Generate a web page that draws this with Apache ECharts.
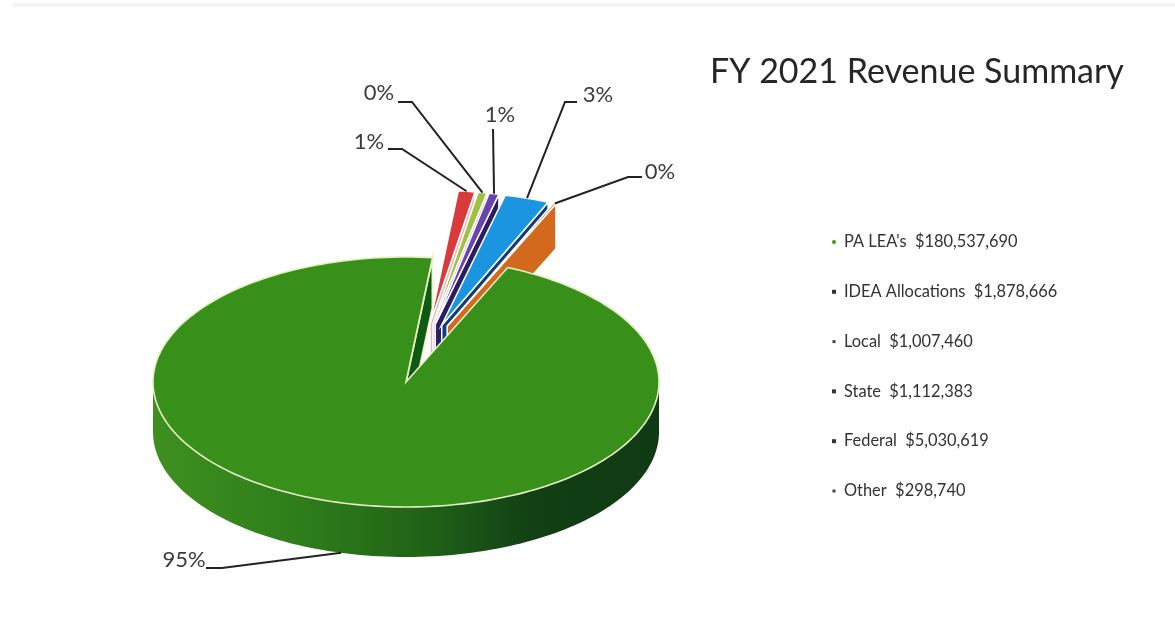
<!DOCTYPE html>
<html>
<head>
<meta charset="utf-8">
<title>FY 2021 Revenue Summary</title>
<style>
  html, body { margin: 0; padding: 0; background: #fff; }
  #chart { width: 1175px; height: 629px; }
</style>
<script src="https://cdn.jsdelivr.net/npm/echarts@6/dist/echarts.min.js"></script>
</head>
<body>
<div id="chart"></div>
<script>
// Revenue sources, in the order the slices run clockwise.
const sourceNames = ["PA LEA's", "IDEA Allocations", "Local", "State", "Federal", "Other"];
const sourceDollars = [180537690, 1878666, 1007460, 1112383, 5030619, 298740];
const percentLabels = ["95%", "1%", "0%", "1%", "3%", "0%"];

// Slice styling: top face, cut wall.
const topColors = ["#38901b", "#d93a3c", "#9cc23f", "#6a44ad", "#1c95e0", "#d2691c"];
const wallColors = ["#0f5a12", "#efb4b4", "#cbbbe2", "#2a1c66", "#123c7c", "#d2691c"];
const legendMarkerColors = ["#3f9a25", "#333333", "#444444", "#333333", "#333333", "#444444"];
const legendMarkerSizes = [4, 4, 3, 4, 4, 3];

// Pie geometry in pixels; angles are degrees clockwise from twelve o'clock.
const pie = { cx: 406, cy: 382, rx: 253, ry: 125, depth: 50, startAngle: 23.7 };
const lift = { shiftX: 15, shiftY: -26, explode: 0.26, radiusScale: 1.07, depth: 45 };

// Label anchor and leader elbow for each slice.
const labelSpots = [
  { x: 184, y: 560, ex: 222, ey: 568, sx: 206, sy: 568 },
  { x: 369, y: 142, ex: 402, ey: 149, sx: 388, sy: 149 },
  { x: 379, y: 93,  ex: 412, ey: 102, sx: 398, sy: 102 },
  { x: 500, y: 115, ex: 493, ey: 129, sx: 493, sy: 129 },
  { x: 598, y: 95,  ex: 565, ey: 102, sx: 577, sy: 102 },
  { x: 660, y: 172, ex: 628, ey: 177, sx: 642, sy: 177 }
];

const legendLayout = { markerX: 834, textX: 844, firstY: 242, step: 49.8 };

const total = sourceDollars.reduce((a, b) => a + b, 0);
const rad = d => d * Math.PI / 180;
const onRim = (c, rx, ry, a) => [c[0] + rx * Math.sin(rad(a)), c[1] - ry * Math.cos(rad(a))];
const arcPoints = (c, rx, ry, a0, a1) => {
  const n = Math.max(2, Math.ceil(Math.abs(a1 - a0) / 1.5));
  const pts = [];
  for (let i = 0; i <= n; i++) pts.push(onRim(c, rx, ry, a0 + (a1 - a0) * i / n));
  return pts;
};
const down = (p, d) => [p[0], p[1] + d];

// Angular extent of every slice, derived from the dollar values.
function sliceRange(index) {
  let a = pie.startAngle;
  for (let i = 0; i < index; i++) a += sourceDollars[i] / total * 360;
  return [a, a + sourceDollars[index] / total * 360];
}

function renderSlice(params, api) {
  const i = params.dataIndex;
  const sweep = api.value(0) / total * 360;
  const a0 = sliceRange(i)[0];
  const a1 = a0 + sweep;
  const mid = (a0 + a1) / 2;
  const children = [];
  let anchor;

  if (i === 0) {
    const c = [pie.cx, pie.cy];
    const front = arcPoints(c, pie.rx, pie.ry, 90, 270);
    const frontLow = front.map(p => down(p, pie.depth)).reverse();
    // Outer rim wall along the front of the disc, lit from the left.
    children.push({
      type: 'polygon', z2: 1,
      shape: { points: front.concat(frontLow) },
      style: {
        fill: new echarts.graphic.LinearGradient(0, 0, 1, 0, [
          { offset: 0, color: '#3f8f20' },
          { offset: 0.3, color: '#2f7c1b' },
          { offset: 0.55, color: '#1f6117' },
          { offset: 0.75, color: '#123f14' },
          { offset: 1, color: '#103a14' }
        ])
      }
    });
    // Cut wall visible inside the gap.
    const end = onRim(c, pie.rx, pie.ry, a1);
    children.push({
      type: 'polygon', z2: 2,
      shape: { points: [c, end, down(end, pie.depth), down(c, pie.depth)] },
      style: { fill: wallColors[0], stroke: '#eef6cf', lineWidth: 2, lineJoin: 'miter' }
    });
    const rim = arcPoints(c, pie.rx, pie.ry, a0, a1);
    children.push({
      type: 'polygon', z2: 20,
      shape: { points: [c].concat(rim) },
      style: { fill: topColors[0], stroke: '#e6efc4', lineWidth: 1.6, lineJoin: 'miter' }
    });
    anchor = down(onRim(c, pie.rx, pie.ry, mid), pie.depth);
  } else {
    const apex = [
      pie.cx + lift.shiftX + lift.explode * pie.rx * Math.sin(rad(mid)),
      pie.cy + lift.shiftY - lift.explode * pie.ry * Math.cos(rad(mid))
    ];
    const rx = pie.rx * lift.radiusScale;
    const ry = pie.ry * lift.radiusScale;
    const end = onRim(apex, rx, ry, a1);
    children.push({
      type: 'polygon', z2: 3 + i * 2,
      shape: { points: [apex, end, down(end, lift.depth), down(apex, lift.depth)] },
      style: { fill: wallColors[i], stroke: '#ffffff', lineWidth: 1.5 }
    });
    children.push({
      type: 'polygon', z2: 4 + i * 2,
      shape: { points: [apex].concat(arcPoints(apex, rx, ry, a0, a1)) },
      style: { fill: topColors[i], stroke: '#ffffff', lineWidth: 1.5 }
    });
    anchor = onRim(apex, rx, ry, mid);
  }

  // Leader line and percentage label.
  const spot = labelSpots[i];
  children.push({
    type: 'polyline', z2: 30,
    shape: { points: [[spot.sx, spot.sy], [spot.ex, spot.ey], anchor] },
    style: { fill: null, stroke: '#222222', lineWidth: 2 }
  });
  children.push({
    type: 'text', z2: 31,
    style: {
      x: spot.x, y: spot.y, text: percentLabels[i],
      align: 'center', verticalAlign: 'middle',
      font: '22px Lato', fill: '#3c3c3c'
    }
  });
  return { type: 'group', children: children };
}

function renderLegendRow(params, api) {
  const i = params.dataIndex;
  const y = legendLayout.firstY + i * legendLayout.step;
  const text = sourceNames[i] + '  $' + api.value(0).toLocaleString('en-US');
  const size = legendMarkerSizes[i];
  return {
    type: 'group',
    children: [
      {
        type: 'rect',
        shape: { x: legendLayout.markerX - size / 2, y: y - size / 2, width: size, height: size, r: i === 0 ? 2 : 0 },
        style: { fill: legendMarkerColors[i] }
      },
      {
        type: 'text',
        style: {
          x: legendLayout.textX, y: y, text: text,
          align: 'left', verticalAlign: 'middle',
          font: '16.4px Lato', fill: '#333333'
        }
      }
    ]
  };
}

const rows = sourceNames.map((name, i) => ({ name: name, value: [sourceDollars[i]] }));

const chart = echarts.init(document.getElementById('chart'), null, { renderer: 'canvas' });
chart.setOption({
  animation: false,
  backgroundColor: '#ffffff',
  title: {
    text: 'FY 2021 Revenue Summary',
    left: 705,
    top: 50,
    textStyle: { fontFamily: 'Lato', fontSize: 34, fontWeight: 'normal', color: '#262626' }
  },
  // Faint rule across the top of the page.
  graphic: [{
    type: 'rect', left: 13, top: 3, silent: true,
    shape: { width: 1162, height: 4 },
    style: { fill: '#f4f4f6' }
  }],
  series: [
    { type: 'custom', coordinateSystem: 'none', silent: true, renderItem: renderSlice, data: rows },
    { type: 'custom', coordinateSystem: 'none', silent: true, renderItem: renderLegendRow, data: rows }
  ]
});
</script>
</body>
</html>
